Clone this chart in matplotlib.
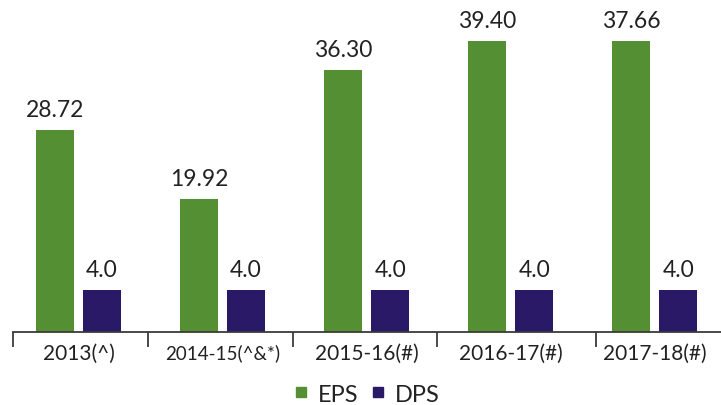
import matplotlib
matplotlib.use("Agg")
import matplotlib.pyplot as plt
from matplotlib.lines import Line2D
import numpy as np

categories = ["2013(^)", "2014-15(^&*)", "2015-16(#)", "2016-17(#)", "2017-18(#)"]
eps_values = [28.72, 19.92, 36.30, 39.40, 37.66]
dps_values = [4.0, 4.0, 4.0, 4.0, 4.0]
# bar heights as drawn in the reference (the drawing is not to scale)
eps_drawn = [27.35, 18.0, 35.47, 39.40, 39.40]
dps_drawn = [5.69, 5.69, 5.69, 5.69, 5.69]

GREEN = "#558F33"
NAVY = "#2A1966"
TEXT = "#222222"
FONT = "Lato"

plt.rcParams['font.family'] = [FONT, 'DejaVu Sans']

fig = plt.figure(figsize=(7.21, 4.06), dpi=100)
ax = fig.add_axes([12.7 / 721, 73 / 406, 1 - 12.7 / 721, 333 / 406])

x = np.arange(len(categories))
w = 0.264
off = 0.163
b1 = ax.bar(x - off, eps_drawn, width=w, color=GREEN, label="EPS")
b2 = ax.bar(x + off, dps_drawn, width=w, color=NAVY, label="DPS")

for rect, v in zip(b1, eps_values):
    ax.annotate(f"{v:.2f}", (rect.get_x() + rect.get_width() / 2, rect.get_height()),
                xytext=(0, 7.5), textcoords="offset points", ha="center", va="bottom",
                fontsize=16.5, color=TEXT)
for rect, v in zip(b2, dps_values):
    ax.annotate(f"{v:.1f}", (rect.get_x() + rect.get_width() / 2, rect.get_height()),
                xytext=(0, 7.5), textcoords="offset points", ha="center", va="bottom",
                fontsize=16.5, color=TEXT)

ax.set_xlim(-0.457, 4.46)
ax.set_ylim(0, 45.09)

for s in ["top", "right", "left"]:
    ax.spines[s].set_visible(False)
ax.spines["bottom"].set_color("#3a3a3a")
ax.spines["bottom"].set_linewidth(1.3)
ax.set_yticks([])

# separators as major ticks, labels as minor ticks
ax.set_xticks([-0.455, 0.483, 1.49, 2.49, 3.594])
ax.set_xticklabels([])
ax.tick_params(axis="x", which="major", length=11, width=1.3, color="#3a3a3a", direction="out")
ax.set_xticks(x, minor=True)
ax.set_xticklabels(categories, minor=True)
ax.tick_params(axis="x", which="minor", length=0, pad=8, labelsize=15, labelcolor=TEXT)
for i, lab in enumerate(ax.get_xticklabels(minor=True)):
    if i == 1:
        lab.set_fontsize(13.5)

handles = [Line2D([], [], marker="s", linestyle="none", markersize=7.5, color=GREEN),
           Line2D([], [], marker="s", linestyle="none", markersize=7.5, color=NAVY)]
leg = fig.legend(handles, ["EPS", "DPS"], loc="center", bbox_to_anchor=(0.508, 0.027),
                 ncol=2, frameon=False, handlelength=0.7, handletextpad=0.35,
                 columnspacing=0.5, labelcolor=TEXT,
                 prop={"size": 17, "family": [FONT, "DejaVu Sans"]})

fig.savefig("out.png", dpi=100)
